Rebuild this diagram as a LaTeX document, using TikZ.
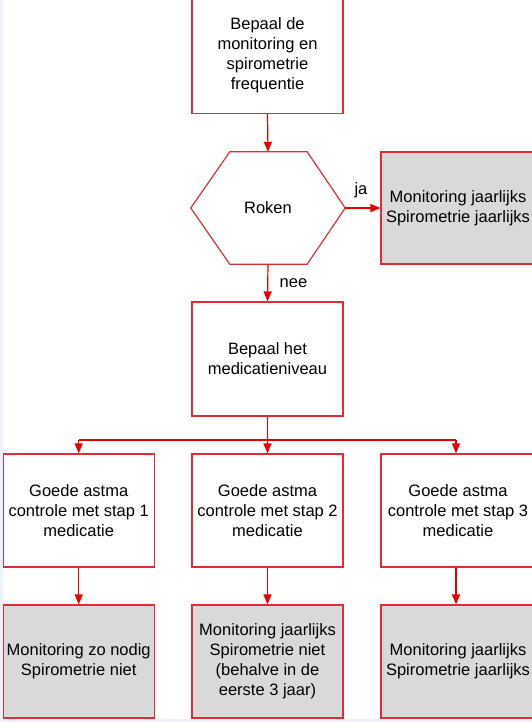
\documentclass[tikz,border=0pt]{standalone}
\usepackage{fontspec}
\setmainfont{Liberation Sans}
\usetikzlibrary{arrows.meta,calc}
\definecolor{boxred}{RGB}{225,45,55}
\definecolor{arrred}{RGB}{235,0,0}
\definecolor{greyfill}{RGB}{217,217,217}
\definecolor{bgblue}{RGB}{238,243,250}
\tikzset{
  box/.style={draw=boxred, line width=1.2pt, minimum width=151pt, minimum height=114pt,
    align=center, font=\fontsize{16.5}{20}\selectfont, inner sep=0pt},
  greybox/.style={box, fill=greyfill},
  lbl/.style={font=\fontsize{16.5}{20}\selectfont, inner sep=0pt},
  arr/.style={draw=arrred, line width=1.2pt, -{Triangle[width=8pt,length=10pt]}},
  ln/.style={draw=arrred, line width=1.2pt}
}
\begin{document}
\begin{tikzpicture}[x=1pt,y=-1pt]
\useasboundingbox (0,0) rectangle (531,722);
\fill[bgblue] (0,0) rectangle (531,722);
\fill[white] (3,0) rectangle (531,719);

\node[box, minimum height=116pt] (top) at (267.5,55.5) {Bepaal de\\monitoring en\\spirometrie\\frequentie};

\node[lbl, minimum width=154pt, minimum height=112pt] (roken) at (268,208) {Roken};
\draw[boxred, line width=1.2pt] (roken.west) -- ($(roken.north west)+(39,0)$) -- ($(roken.north east)+(-38,0)$) -- (roken.east) -- ($(roken.south east)+(-38,0)$) -- ($(roken.south west)+(39,0)$) -- cycle;

\node[greybox, minimum width=154pt, minimum height=112pt] (ja) at (458,208) {Monitoring jaarlijks\\Spirometrie jaarlijks};
\node[lbl] (jal) at (361,190) {ja};
\node[lbl] (neel) at (293.5,283) {nee};

\node[box] (med) at (267.5,359) {Bepaal het\\medicatieniveau};

\node[box, minimum height=113pt] (s1) at (78.7,510.5) {Goede astma\\controle met stap 1\\medicatie};
\node[box, minimum height=113pt] (s2) at (267.5,510.5) {Goede astma\\controle met stap 2\\medicatie};
\node[box, minimum height=113pt, minimum width=154pt] (s3) at (458,510.5) {Goede astma\\controle met stap 3\\medicatie};

\node[greybox, minimum height=113pt] (m1) at (78.7,661.5) {Monitoring zo nodig\\Spirometrie niet};
\node[greybox, minimum height=113pt] (m2) at (267.5,661.5) {Monitoring jaarlijks\\Spirometrie niet\\(behalve in de\\eerste 3 jaar)};
\node[greybox, minimum height=113pt, minimum width=154pt] (m3) at (458,661.5) {Monitoring jaarlijks\\Spirometrie jaarlijks};

\coordinate (split) at (267.5,440);
\coordinate (sl) at (s1.north |- split);
\coordinate (sr) at (456,440);

\draw[arr] (top.south) -- (roken.north);
\draw[arr] (roken.east) -- (ja.west);
\draw[arr] (roken.south) -- (med.north);
\draw[arr] (med.south) -- (s2.north);
\draw[ln] (sl) -- (sr);
\draw[arr] (sl) -- (s1.north);
\draw[arr] (sr) -- (sr |- s3.north);
\draw[arr] (s1.south) -- (m1.north);
\draw[arr] (s2.south) -- (m2.north);
\draw[arr] (s3.south -| sr) -- (sr |- m3.north);
\end{tikzpicture}
\end{document}
